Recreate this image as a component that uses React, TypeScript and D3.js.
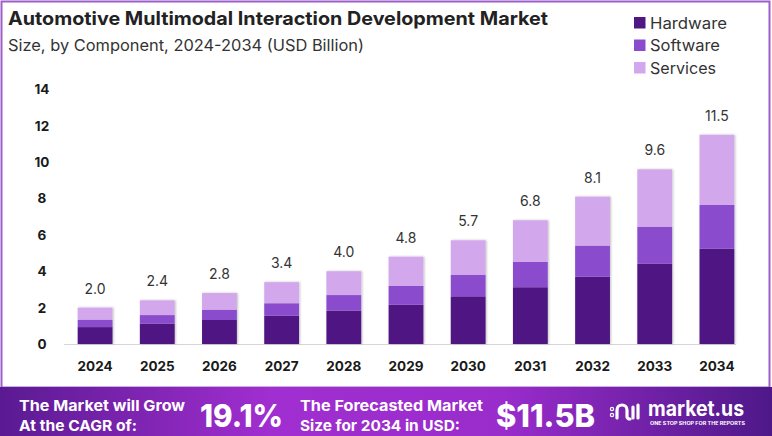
import React, { useRef, useEffect } from 'react';
import * as d3 from 'd3';

const years = ['2024', '2025', '2026', '2027', '2028', '2029', '2030', '2031', '2032', '2033', '2034'];
const hardware = [0.93, 1.12, 1.32, 1.56, 1.83, 2.16, 2.62, 3.12, 3.7, 4.41, 5.24];
const software = [0.41, 0.47, 0.57, 0.68, 0.86, 1.03, 1.19, 1.39, 1.71, 2.04, 2.4];
const services = [0.66, 0.81, 0.91, 1.16, 1.31, 1.61, 1.89, 2.29, 2.69, 3.15, 3.86];
const totals = ['2.0', '2.4', '2.8', '3.4', '4.0', '4.8', '5.7', '6.8', '8.1', '9.6', '11.5'];
const yTicks = [0, 2, 4, 6, 8, 10, 12, 14];
const seriesNames = ['Hardware', 'Software', 'Services'];
const colors = ['#4f1783', '#8a4ccc', '#d3a7ec'];

function Chart() {
  const chartRef = useRef(null);

  useEffect(() => {
    document.body.style.margin = '0';
    const svg = d3.select(chartRef.current);
    svg.selectAll('*').remove();
    const W = 772;
    const H = 436;
    const font = 'Inter, "Noto Sans", sans-serif';

    const defs = svg.append('defs');
    const grad = defs.append('linearGradient').attr('id', 'band').attr('x1', '0%').attr('x2', '100%');
    grad.append('stop').attr('offset', '0%').attr('stop-color', '#5a1a92');
    grad.append('stop').attr('offset', '35%').attr('stop-color', '#a12ed0');
    grad.append('stop').attr('offset', '65%').attr('stop-color', '#9a2ccc');
    grad.append('stop').attr('offset', '100%').attr('stop-color', '#4e1888');
    const shadow = defs.append('filter').attr('id', 'shadow').attr('x', '-20%').attr('y', '-5%').attr('width', '140%').attr('height', '110%');
    shadow.append('feDropShadow').attr('dx', 1).attr('dy', 0).attr('stdDeviation', 1.2).attr('flood-color', '#000').attr('flood-opacity', 0.25);

    // frame
    svg.append('rect').attr('width', W).attr('height', H).attr('fill', '#fff');
    svg.append('rect').attr('x', 1.5).attr('y', 1.5).attr('width', W - 4).attr('height', 386)
      .attr('fill', 'none').attr('stroke', '#9d5ec9').attr('stroke-width', 2);

    // title block
    svg.append('text').attr('x', 8).attr('y', 25).attr('font-family', font).attr('font-weight', 700)
      .attr('font-size', 18.5).attr('textLength', 540).attr('lengthAdjust', 'spacingAndGlyphs')
      .attr('fill', '#222').text('Automotive Multimodal Interaction Development Market');
    svg.append('text').attr('x', 8).attr('y', 51).attr('font-family', font)
      .attr('font-size', 16).attr('textLength', 356).attr('lengthAdjust', 'spacingAndGlyphs')
      .attr('fill', '#333').text('Size, by Component, 2024-2034 (USD Billion)');

    // legend
    const legendLen = [77, 70, 66];
    const legend = svg.append('g').attr('transform', 'translate(634,17)');
    seriesNames.forEach((name, i) => {
      legend.append('rect').attr('x', 0).attr('y', i * 22.5).attr('width', 11.5).attr('height', 11.5).attr('fill', colors[i]);
      legend.append('text').attr('x', 16).attr('y', i * 22.5 + 11.5).attr('font-family', font)
        .attr('font-size', 16).attr('textLength', legendLen[i]).attr('lengthAdjust', 'spacingAndGlyphs')
        .attr('fill', '#333').text(name);
    });

    // scales
    const x = d3.scaleBand().domain(years).range([64, 748]).paddingInner(0.44).paddingOuter(0.22);
    const y = d3.scaleLinear().domain([0, 14]).range([344, 89.3]);

    const stackData = years.map((yr, i) => ({ year: yr, Hardware: hardware[i], Software: software[i], Services: services[i] }));
    const stacked = d3.stack().keys(seriesNames)(stackData);

    // baseline
    svg.append('line').attr('x1', 64).attr('x2', 736).attr('y1', y(0) + 0.5).attr('y2', y(0) + 0.5)
      .attr('stroke', '#d8d4de').attr('stroke-width', 1);

    const bars = svg.append('g').attr('filter', 'url(#shadow)');
    stacked.forEach((layer, li) => {
      bars.append('g').attr('fill', colors[li]).selectAll('rect').data(layer).enter().append('rect')
        .attr('x', (d) => x(d.data.year))
        .attr('width', x.bandwidth())
        .attr('y', (d) => y(d[1]))
        .attr('height', (d) => y(d[0]) - y(d[1]));
    });

    // value labels
    svg.append('g').selectAll('text').data(years).enter().append('text')
      .attr('x', (d) => x(d) + x.bandwidth() / 2)
      .attr('y', (d, i) => y(hardware[i] + software[i] + services[i]) - 14)
      .attr('text-anchor', 'middle').attr('font-family', font).attr('font-size', 14).attr('fill', '#333')
      .text((d, i) => totals[i]);

    // y axis labels
    svg.append('g').selectAll('text').data(yTicks).enter().append('text')
      .attr('x', 42).attr('y', (d) => y(d) + 5)
      .attr('text-anchor', 'middle').attr('font-family', font).attr('font-weight', 700)
      .attr('font-size', 13.5).attr('fill', '#1a1a1a').text((d) => d);

    // x axis labels
    svg.append('g').selectAll('text').data(years).enter().append('text')
      .attr('x', (d) => x(d) + x.bandwidth() / 2).attr('y', 371)
      .attr('text-anchor', 'middle').attr('font-family', font).attr('font-weight', 700)
      .attr('font-size', 13.5).attr('fill', '#1a1a1a').text((d) => d);

    // footer band
    svg.append('rect').attr('x', 0).attr('y', 387).attr('width', W).attr('height', H - 387).attr('fill', 'url(#band)');
    const band = svg.append('g').attr('font-family', font).attr('fill', '#fff').attr('font-weight', 700);
    const bandText = (tx, ty, size, len, str, weight = 700) =>
      band.append('text').attr('x', tx).attr('y', ty).attr('font-size', size).attr('font-weight', weight)
        .attr('textLength', len).attr('lengthAdjust', 'spacingAndGlyphs').text(str);
    bandText(19, 411, 15, 166, 'The Market will Grow');
    bandText(19, 430.5, 15, 118, 'At the CAGR of:');
    bandText(200, 427, 31, 83, '19.1%', 800);
    bandText(300, 411, 15, 183, 'The Forecasted Market');
    bandText(300, 430.5, 15, 160, 'Size for 2034 in USD:');
    bandText(496, 427, 31, 99, '$11.5B', 800);

    // logo
    const logo = svg.append('g').attr('transform', 'translate(610,400)').attr('stroke', '#fff')
      .attr('stroke-width', 3.2).attr('fill', 'none').attr('stroke-linecap', 'round');
    logo.append('path').attr('d', 'M7,18 L7,10 A5,5 0 0 1 17,10 L17,17 A3,3 0 0 0 20,19');
    logo.append('line').attr('x1', 23).attr('x2', 23).attr('y1', 7).attr('y2', 18);
    logo.append('line').attr('x1', 28).attr('x2', 28).attr('y1', 5).attr('y2', 18);
    logo.append('circle').attr('cx', 2).attr('cy', 9).attr('r', 0.6);
    logo.append('circle').attr('cx', 2).attr('cy', 15).attr('r', 0.6);
    bandText(648, 416, 21, 96, 'market.us');
    bandText(650, 425, 4.6, 95, 'ONE STOP SHOP FOR THE REPORTS');
  }, []);

  return <svg ref={chartRef} width={772} height={436} style={{ display: 'block' }}></svg>;
}

export default function App() {
  return <Chart />;
}
